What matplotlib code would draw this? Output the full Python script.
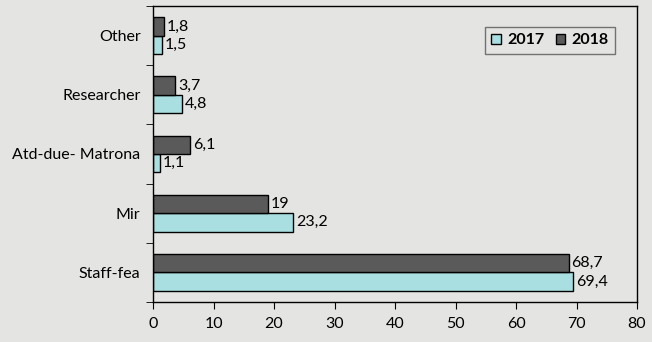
import matplotlib.pyplot as plt
import numpy as np

categories = ["Staff-fea", "Mir", "Atd-due- Matrona", "Researcher", "Other"]
vals_2017 = [69.4, 23.2, 1.1, 4.8, 1.5]
vals_2018 = [68.7, 19, 6.1, 3.7, 1.8]
labels_2017 = ["69,4", "23,2", "1,1", "4,8", "1,5"]
labels_2018 = ["68,7", "19", "6,1", "3,7", "1,8"]

plt.rcParams['font.family'] = ['Lato', 'DejaVu Sans']

bg = "#e4e5e3"
fig = plt.figure(figsize=(6.52, 3.42), dpi=100, facecolor=bg)
ax = fig.add_axes([0.2347, 0.117, 0.7423, 0.8655])
ax.set_facecolor(bg)

y = np.arange(len(categories))
h = 0.31
b17 = ax.barh(y - h / 2, vals_2017, height=h, color="#a9dfe0", edgecolor="black", linewidth=1, label="2017")
b18 = ax.barh(y + h / 2, vals_2018, height=h, color="#5a5a5a", edgecolor="black", linewidth=1, label="2018")

fs = 11.5
ax.bar_label(b17, labels=labels_2017, padding=2, fontsize=fs)
ax.bar_label(b18, labels=labels_2018, padding=2, fontsize=fs)

ax.set_xlim(0, 80)
ax.set_ylim(-0.5, len(categories) - 0.5)
ax.set_xticks(np.arange(0, 81, 10))
ax.set_yticks(y)
ax.set_yticklabels(categories)
ax.set_yticks(np.arange(-0.5, len(categories), 1), minor=True)
ax.tick_params(axis="y", which="major", length=0, pad=9, labelsize=fs)
ax.tick_params(axis="y", which="minor", length=5, direction="out")
ax.tick_params(axis="x", length=5, direction="out", labelsize=fs, pad=6)
for s in ax.spines.values():
    s.set_color("black")
    s.set_linewidth(1)

leg = ax.legend(loc="upper right", bbox_to_anchor=(0.955, 0.929), borderaxespad=0, ncol=2,
                frameon=True, fancybox=False, edgecolor="#555555", facecolor=bg,
                prop={"weight": "bold", "size": fs},
                handlelength=0.6, handleheight=0.6, handletextpad=0.4, columnspacing=0.7,
                borderpad=0.4)
leg.get_frame().set_linewidth(1)

fig.savefig("out.png", dpi=100, facecolor=bg)
